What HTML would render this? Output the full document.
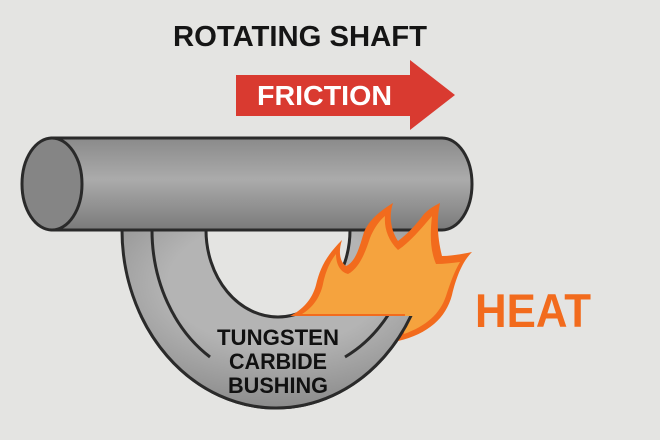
<!DOCTYPE html>
<html><head><meta charset="utf-8"><style>
html,body{margin:0;padding:0;background:#e4e4e2;}
svg{display:block;}
</style></head><body>
<svg width="660" height="440" viewBox="0 0 660 440" xmlns="http://www.w3.org/2000/svg">
<defs>
<linearGradient id="sh" x1="0" y1="0" x2="0" y2="1">
<stop offset="0" stop-color="#8a8a8a"/><stop offset="0.45" stop-color="#ababab"/><stop offset="1" stop-color="#7a7a7a"/>
</linearGradient>
<radialGradient id="bu" cx="0.5" cy="0.3" r="0.7">
<stop offset="0.5" stop-color="#b4b4b4"/><stop offset="1" stop-color="#8c8c8c"/>
</radialGradient>
<clipPath id="low"><rect x="0" y="316" width="660" height="124"/></clipPath>
</defs>
<rect width="660" height="440" fill="#e4e4e2"/>
<g>
<path d="M122,230 A154,178 0 0 0 430,230 L350,230 A72,87 0 0 1 206,230 Z" fill="url(#bu)" stroke="#2a2a2a" stroke-width="3"/>
<path d="M152,230 A124,150 0 0 0 210,357" fill="none" stroke="#2a2a2a" stroke-width="3"/>
<path d="M345,357 A124,150 0 0 0 390,312" fill="none" stroke="#2a2a2a" stroke-width="3"/>
</g>
<path d="M52,138 L442,138 A30,46 0 0 1 442,230 L52,230 Z" fill="url(#sh)" stroke="#2a2a2a" stroke-width="3"/>
<ellipse cx="52" cy="184" rx="30" ry="46" fill="#858585" stroke="#2a2a2a" stroke-width="3"/>
<path d="M290,316 C302,310 312,300 316,285 C320,268 326,256 342,240 C338,252 340,262 346,266 C356,262 360,245 364,232 C370,218 382,210 393,203 C388,218 392,232 398,241 C410,232 418,222 424,214 C430,208 436,205 440,203 C436,222 438,240 442,256 C452,256 462,254 472,252 C462,262 456,278 452,295 C446,318 428,334 398,341 L405,316 Z" fill="#f26b1d"/>
<path d="M302,314 C312,308 320,298 323,284 C326,270 330,262 336,254 C336,264 340,272 348,274 C360,268 366,250 370,238 C374,228 380,220 385,216 C384,228 388,240 398,250 C410,242 420,230 432,216 C430,234 430,250 436,264 C444,264 452,263 460,262 C454,272 450,284 446,296 C440,314 426,326 404,334 L405,314 Z" fill="#f5a33e"/>
<g clip-path="url(#low)">
<path d="M122,230 A154,178 0 0 0 430,230 L350,230 A72,87 0 0 1 206,230 Z" fill="url(#bu)" stroke="#2a2a2a" stroke-width="3"/>
<path d="M152,230 A124,150 0 0 0 210,357" fill="none" stroke="#2a2a2a" stroke-width="3"/>
<path d="M345,357 A124,150 0 0 0 390,312" fill="none" stroke="#2a2a2a" stroke-width="3"/>
</g>
<g font-family="Liberation Sans, sans-serif" font-weight="bold" text-anchor="middle" fill="#111" font-size="22">
<text x="278" y="345" textLength="122" lengthAdjust="spacingAndGlyphs">TUNGSTEN</text>
<text x="278" y="369" textLength="98" lengthAdjust="spacingAndGlyphs">CARBIDE</text>
<text x="278" y="393" textLength="100" lengthAdjust="spacingAndGlyphs">BUSHING</text>
</g>
<path d="M236,75 L410,75 L410,60 L455,95 L410,130 L410,116 L236,116 Z" fill="#d93a30"/>
<text x="257" y="105" font-family="Liberation Sans, sans-serif" font-weight="bold" font-size="28" fill="#fff" textLength="135" lengthAdjust="spacingAndGlyphs">FRICTION</text>
<text x="173" y="46" font-family="Liberation Sans, sans-serif" font-weight="bold" font-size="29" fill="#151515" textLength="254" lengthAdjust="spacingAndGlyphs">ROTATING SHAFT</text>
<text x="475" y="327" font-family="Liberation Sans, sans-serif" font-weight="bold" font-size="47" fill="#f26b1d" textLength="116" lengthAdjust="spacingAndGlyphs">HEAT</text>
</svg>
</body></html>
